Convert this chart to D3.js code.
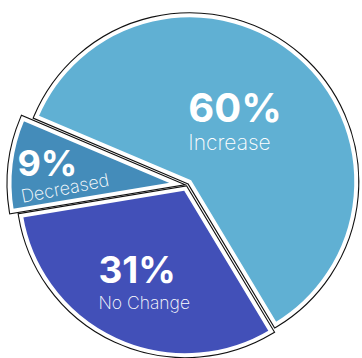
<!DOCTYPE html>
<html>
<head>
<meta charset="utf-8">
<script src="https://cdn.jsdelivr.net/npm/d3@7"></script>
<style>
  html, body { margin: 0; padding: 0; background: #fff; }
  svg { display: block; }
  .pct { font-family: Inter, "Noto Sans", sans-serif; font-weight: 700; fill: #fff; }
  .lbl { font-family: Inter, "Noto Sans", sans-serif; font-weight: 200; fill: #fff; }
</style>
</head>
<body>
<svg id="chart" width="362" height="358"></svg>
<script>
// Survey result shares
const categories = ["Increase", "No Change", "Decreased"];
const values = [60, 31, 9];
const valueLabels = ["60%", "31%", "9%"];
const colors = ["#60b0d3", "#4250b8", "#448cba"];

const width = 362, height = 358;
const cx = 187, cy = 185;
const radius = 166.5;

// how far each wedge is pulled out from the centre
const pullOut = { "Increase": 4.2, "No Change": 4, "Decreased": 11 };

// label placement relative to each wedge's centroid, and text sizes
const labelLayout = {
  "Increase":  { dx: -56, dy: 3,  pct: 40, lbl: 21, rot: 0,   gx: 0, gap: 28 },
  "No Change": { dx: -52, dy: 19, pct: 37, lbl: 17.5, rot: 0, gx: 0, gap: 26 },
  "Decreased": { dx: -76, dy: 2,  pct: 36, lbl: 18, rot: -11, gx: 5, gap: 27 }
};

const svg = d3.select("#chart");
const color = d3.scaleOrdinal().domain(categories).range(colors);

const start = -67 * Math.PI / 180;
const pie = d3.pie().sort(null).value(d => d.value)
  .startAngle(start).endAngle(start + 2 * Math.PI);

const data = categories.map((c, i) => ({ category: c, value: values[i], label: valueLabels[i] }));
const arcs = pie(data);

const arc = d3.arc().innerRadius(0).outerRadius(radius);
const labelArc = d3.arc().innerRadius(radius * 0.5).outerRadius(radius * 0.5);

const g = svg.append("g").attr("transform", `translate(${cx},${cy})`);

const slice = g.selectAll("g.slice").data(arcs).join("g")
  .attr("class", "slice")
  .attr("transform", d => {
    const mid = (d.startAngle + d.endAngle) / 2;
    const k = pullOut[d.data.category];
    return `translate(${k * Math.sin(mid)},${-k * Math.cos(mid)})`;
  });

// black outline sitting just outside a thin white rim
slice.append("path")
  .attr("d", arc)
  .attr("fill", "#fff")
  .attr("stroke", "#111")
  .attr("stroke-width", 6.2)
  .attr("stroke-linejoin", "miter");

slice.append("path")
  .attr("d", arc)
  .attr("fill", d => color(d.data.category))
  .attr("stroke", "#fff")
  .attr("stroke-width", 4)
  .attr("stroke-linejoin", "miter");

// value + category labels
slice.each(function(d) {
  const L = labelLayout[d.data.category];
  const [x, y] = labelArc.centroid(d);
  const t = d3.select(this).append("g")
    .attr("transform", `translate(${x + L.dx},${y + L.dy})`);
  t.append("text").attr("class", "pct")
    .attr("font-size", L.pct)
    .attr("x", 0).attr("y", 0)
    .text(d.data.label);
  t.append("text").attr("class", "lbl")
    .attr("font-size", L.lbl)
    .attr("transform", `translate(${L.gx},${L.gap}) rotate(${L.rot})`)
    .text(d.data.category);
});
</script>
</body>
</html>
